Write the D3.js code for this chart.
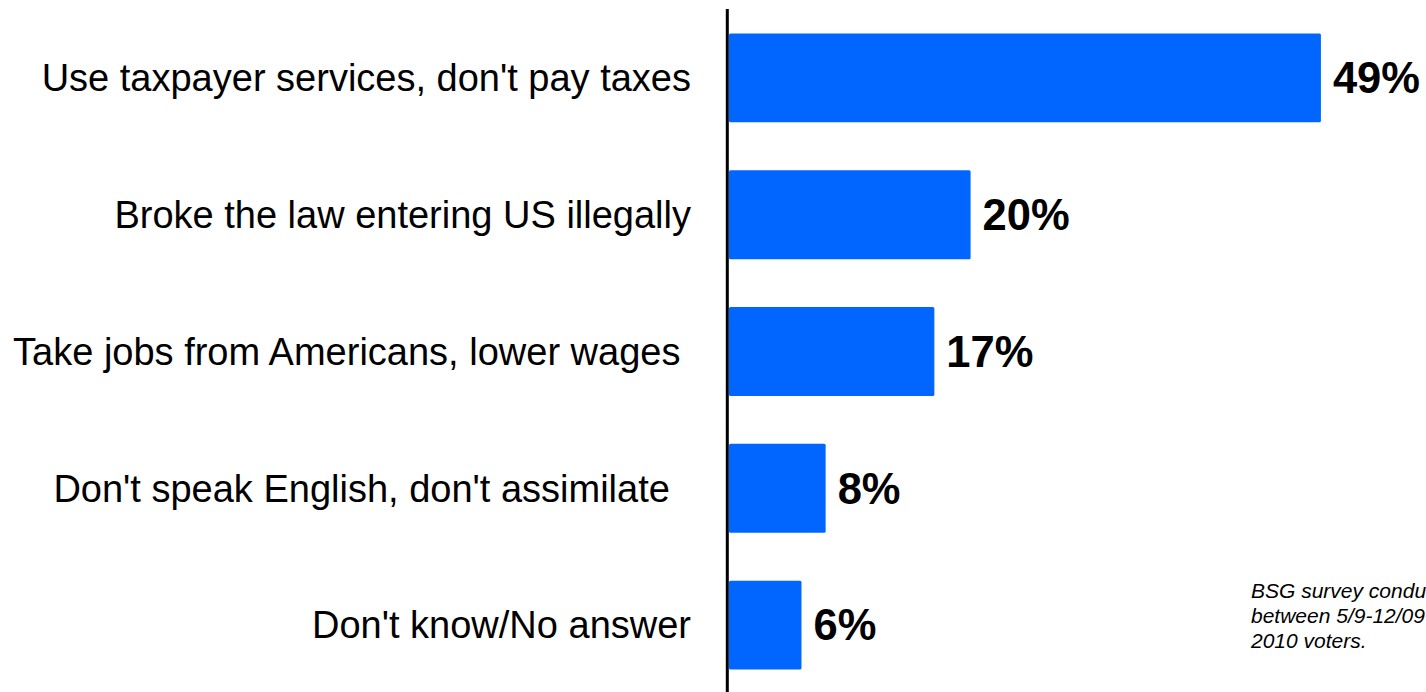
<!DOCTYPE html>
<html>
<head>
<meta charset="utf-8">
<script src="https://cdn.jsdelivr.net/npm/d3@7"></script>
<style>
  html, body { margin: 0; padding: 0; background: #fff; overflow: hidden; }
  svg { display: block; }
  text { font-family: Arial, "Liberation Sans", sans-serif; }
</style>
</head>
<body>
<svg id="chart" width="1426" height="692"></svg>
<script>
// Reasons given, and share of respondents choosing each
const categories = [
  "Use taxpayer services, don't pay taxes",
  "Broke the law entering US illegally",
  "Take jobs from Americans, lower wages ",
  "Don't speak English, don't assimilate  ",
  "Don't know/No answer"
];
const values = [49, 20, 17, 8, 6];
const noteLines = [
  "BSG survey conducted among",
  "between 5/9-12/09 of 1,000 likely",
  "2010 voters."
];

const svg = d3.select("#chart");
const W = 1426, H = 692;

const x = d3.scaleLinear().domain([0, 50]).range([729, 1333]);
const y = d3.scaleBand()
  .domain(categories)
  .range([9.5, 693.5])
  .paddingInner(0.35)
  .paddingOuter(0.175);

const rows = categories.map((c, i) => ({ cat: c, val: values[i] }));

// bars
svg.append("g").selectAll("rect")
  .data(rows)
  .join("rect")
  .attr("x", x(0))
  .attr("y", d => y(d.cat))
  .attr("width", d => x(d.val) - x(0))
  .attr("height", y.bandwidth())
  .attr("rx", 1.5)
  .attr("fill", "#0066ff");

// vertical baseline
svg.append("line")
  .attr("x1", 727.3).attr("x2", 727.3)
  .attr("y1", 9).attr("y2", H)
  .attr("stroke", "#000")
  .attr("stroke-width", 3);

// category labels
svg.append("g").selectAll("text")
  .data(rows)
  .join("text")
  .attr("x", 691)
  .attr("y", d => y(d.cat) + y.bandwidth() / 2)
  .attr("dy", "0.35em")
  .attr("text-anchor", "end")
  .style("white-space", "pre")
  .attr("font-size", 38)
  .attr("fill", "#000")
  .text(d => d.cat);

// value labels
svg.append("g").selectAll("text")
  .data(rows)
  .join("text")
  .attr("x", d => x(d.val) + 12)
  .attr("y", d => y(d.cat) + y.bandwidth() / 2)
  .attr("dy", "0.35em")
  .attr("font-size", 43.5)
  .attr("font-weight", "bold")
  .attr("fill", "#000")
  .text(d => d.val + "%");

// source note (runs past the right edge of the page)
svg.append("g").selectAll("text")
  .data(noteLines)
  .join("text")
  .attr("x", 1251)
  .attr("y", (d, i) => 598 + i * 25)
  .attr("font-size", 21)
  .attr("font-style", "italic")
  .attr("fill", "#000")
  .text(d => d);
</script>
</body>
</html>
